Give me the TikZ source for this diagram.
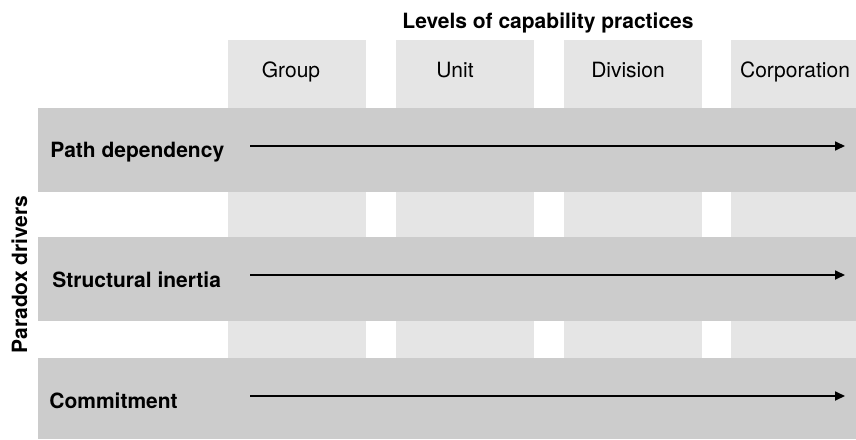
\documentclass[tikz,border=0pt]{standalone}
\usepackage{fontspec}
\setmainfont{TeX Gyre Heros}
\usepackage{tikz}
\usetikzlibrary{
    arrows.meta
}
\definecolor{levelGray}{RGB}{229, 229, 229}
\definecolor{driverGray}{RGB}{204, 204, 204}
\tikzset{
    levelLabel/.style={inner sep=0pt, anchor=base, font=\fontsize{10.5}{12.6}\selectfont},
    driverLabel/.style={inner sep=0pt, anchor=base west, font=\fontsize{10.5}{12.6}\selectfont\bfseries},
    headLabel/.style={inner sep=0pt, anchor=base, font=\fontsize{10.5}{12.6}\selectfont\bfseries}
}

\begin{document}
\begin{tikzpicture}[x=0.5pt, y=-0.5pt, >={Triangle[length=5pt, width=4.5pt]}]
            \useasboundingbox[fill=white] (0,0) rectangle (856,439);
            % columns: levels
            \fill[levelGray] (228,40) rectangle (366,439);
            \fill[levelGray] (396,40) rectangle (534,439);
            \fill[levelGray] (564,40) rectangle (702,439);
            \fill[levelGray] (731,40) rectangle (856,439);
            % rows: drivers
            \fill[driverGray] (38,108) rectangle (856,192);
            \fill[driverGray] (38,237) rectangle (856,321);
            \fill[driverGray] (38,358) rectangle (856,439);

            \node[headLabel] (levels) at (548,28) {Levels of capability practices};
            \node[headLabel, rotate=90] (drivers) at (27,274.5) {Paradox drivers};

            \node[levelLabel] (group) at (291,77.5) {Group};
            \node[levelLabel] (unit) at (455,77.5) {Unit};
            \node[levelLabel] (division) at (628,77.5) {Division};
            \node[levelLabel] (corporation) at (795,77.5) {Corporation};

            \node[driverLabel] (path) at (50,157) {Path dependency};
            \node[driverLabel] (inertia) at (52,287) {Structural inertia};
            \node[driverLabel] (commitment) at (49,408) {Commitment};

            \coordinate (pathStart) at (250,146);
            \coordinate (pathEnd) at (845,146);
            \coordinate (inertiaStart) at (250,275);
            \coordinate (inertiaEnd) at (845,275);
            \coordinate (commitmentStart) at (250,396);
            \coordinate (commitmentEnd) at (845,396);

            \draw[->, line width=0.85pt] (pathStart) -- (pathEnd);
            \draw[->, line width=0.85pt] (inertiaStart) -- (inertiaEnd);
            \draw[->, line width=0.85pt] (commitmentStart) -- (commitmentEnd);
        \end{tikzpicture}
\end{document}
